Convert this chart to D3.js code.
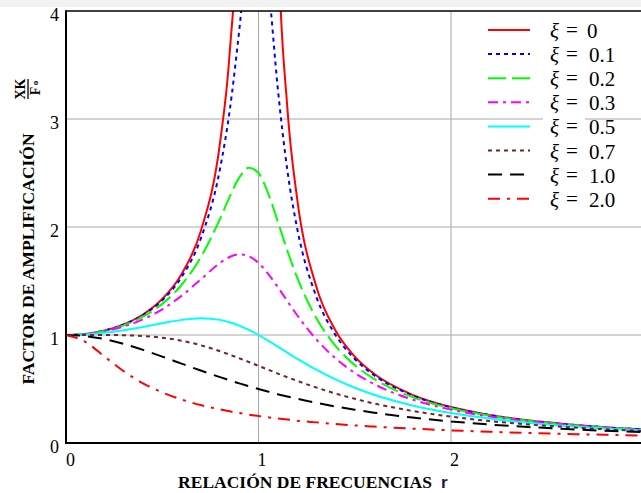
<!DOCTYPE html>
<html>
<head>
<meta charset="utf-8">
<script src="https://cdn.jsdelivr.net/npm/d3@7"></script>
<style>
  body { margin: 0; background: #fff; }
  text { font-family: "Liberation Serif", "Times New Roman", serif; }
</style>
</head>
<body>
<svg id="chart" width="641" height="493"></svg>
<script>
// frequency ratio r
var ratios = [0, 0.1, 0.2, 0.3, 0.4, 0.5, 0.6, 0.7, 0.8, 0.85, 0.9, 0.95, 1.0, 1.05, 1.1, 1.15, 1.2,
              1.3, 1.4, 1.5, 1.6, 1.8, 2.0, 2.2, 2.4, 2.6, 2.8, 3.0];

// amplification factor XK/Fo read for each damping ratio
var xi0  = [1, 1.010, 1.042, 1.099, 1.190, 1.333, 1.563, 1.961, 2.778, 3.604, 5.263, 10.26, null, 9.756, 4.762, 3.101, 2.273,
            1.449, 1.042, 0.800, 0.641, 0.446, 0.333, 0.260, 0.210, 0.174, 0.146, 0.125];
var xi01 = [1, 1.010, 1.041, 1.097, 1.185, 1.322, 1.536, 1.891, 2.538, 3.073, 3.821, 4.683, 5.0, 4.279, 3.288, 2.524, 1.995,
            1.356, 1.000, 0.778, 0.628, 0.441, 0.330, 0.259, 0.209, 0.173, 0.146, 0.125];
var xi02 = [1, 1.009, 1.038, 1.089, 1.169, 1.288, 1.463, 1.719, 2.076, 2.279, 2.457, 2.549, 2.5, 2.313, 2.051, 1.780, 1.536,
            1.157, 0.900, 0.721, 0.593, 0.425, 0.322, 0.254, 0.206, 0.171, 0.144, 0.124];
var xi03 = [1, 1.008, 1.034, 1.078, 1.145, 1.238, 1.362, 1.514, 1.667, 1.722, 1.747, 1.729, 1.667, 1.567, 1.444, 1.313, 1.185,
            0.960, 0.784, 0.649, 0.546, 0.402, 0.309, 0.246, 0.201, 0.168, 0.142, 0.122];
var xi05 = [1, 1.005, 1.020, 1.044, 1.075, 1.109, 1.140, 1.155, 1.140, 1.118, 1.087, 1.047, 1.000, 0.948, 0.893, 0.837, 0.782,
            0.679, 0.589, 0.512, 0.447, 0.348, 0.277, 0.226, 0.188, 0.158, 0.135, 0.117];
var xi07 = [1, 1.000, 1.000, 0.998, 0.991, 0.975, 0.947, 0.905, 0.850, 0.818, 0.785, 0.750, 0.714, 0.679, 0.643, 0.609, 0.576,
            0.514, 0.458, 0.409, 0.366, 0.297, 0.244, 0.203, 0.172, 0.147, 0.127, 0.111];
var xi10 = [1, 0.990, 0.962, 0.917, 0.862, 0.800, 0.735, 0.671, 0.610, 0.581, 0.552, 0.526, 0.500, 0.476, 0.452, 0.431, 0.410,
            0.372, 0.338, 0.308, 0.281, 0.236, 0.200, 0.171, 0.148, 0.129, 0.113, 0.100];
var xi20 = [1, 0.937, 0.800, 0.664, 0.553, 0.468, 0.403, 0.351, 0.311, 0.293, 0.277, 0.263, 0.250, 0.238, 0.227, 0.217, 0.207,
            0.191, 0.176, 0.163, 0.152, 0.133, 0.117, 0.104, 0.093, 0.084, 0.076, 0.069];

var seriesNames = ['0', '0.1', '0.2', '0.3', '0.5', '0.7', '1.0', '2.0'];
var seriesValues = [xi0, xi01, xi02, xi03, xi05, xi07, xi10, xi20];
var seriesColors = ['#ff0000', '#0000ff', '#00ff00', '#ff00ff', '#00ffff', '#742424', '#000000', '#ff0000'];
var seriesDash = [null, '4,4', '18,6', '10,5,3,5', null, '4,4', '14,8', '12,7,3,7'];

var xTicks = [0, 1, 2];
var yTicks = [0, 1, 2, 3, 4];

var svg = d3.select('#chart');
var plotLeft = 66, plotRight = 643.5, plotTop = 11, plotBottom = 443;

var x = d3.scaleLinear().domain([0, 3]).range([plotLeft, plotRight]);
var y = d3.scaleLinear().domain([0, 4]).range([plotBottom, plotTop]);

// faint band at the very top of the scan
svg.append('rect').attr('x', 0).attr('y', 0).attr('width', 641).attr('height', 7).attr('fill', '#f2f2f2');

svg.append('clipPath').attr('id', 'plot')
    .append('rect').attr('x', plotLeft).attr('y', plotTop)
    .attr('width', plotRight - plotLeft).attr('height', plotBottom - plotTop);

// grid lines
svg.append('g').selectAll('line')
    .data(yTicks.slice(1, 4))
    .enter().append('line')
    .attr('x1', plotLeft).attr('x2', 641)
    .attr('y1', function (d) { return y(d); }).attr('y2', function (d) { return y(d); })
    .attr('stroke', '#a8a8a8').attr('stroke-width', 1);

svg.append('g').selectAll('line')
    .data(xTicks.slice(1))
    .enter().append('line')
    .attr('x1', function (d) { return x(d); }).attr('x2', function (d) { return x(d); })
    .attr('y1', plotTop).attr('y2', plotBottom)
    .attr('stroke', '#a8a8a8').attr('stroke-width', 1);

// legend white box behind the xi column (hides the grid there)
svg.append('rect').attr('x', 543).attr('y', 18).attr('width', 42).attr('height', 196).attr('fill', '#fff');

// curves
var line = d3.line()
    .defined(function (d) { return d[1] != null; })
    .x(function (d) { return x(d[0]); })
    .y(function (d) { return y(d[1]); })
    .curve(d3.curveMonotoneX);

var curves = svg.append('g').attr('clip-path', 'url(#plot)');
seriesValues.forEach(function (vals, i) {
    var pts = ratios.map(function (r, j) { return [r, vals[j]]; });
    curves.append('path')
        .datum(pts)
        .attr('d', line)
        .attr('fill', 'none')
        .attr('stroke', seriesColors[i])
        .attr('stroke-width', 2)
        .attr('stroke-dasharray', seriesDash[i]);
});

// axes frame
svg.append('line').attr('x1', plotLeft).attr('x2', 641).attr('y1', plotTop).attr('y2', plotTop)
    .attr('stroke', '#000').attr('stroke-width', 1.5);
svg.append('line').attr('x1', plotLeft).attr('x2', plotLeft).attr('y1', plotTop - 0.75).attr('y2', plotBottom + 1)
    .attr('stroke', '#000').attr('stroke-width', 2);
svg.append('line').attr('x1', plotLeft - 1).attr('x2', 641).attr('y1', plotBottom).attr('y2', plotBottom)
    .attr('stroke', '#000').attr('stroke-width', 2);

var yAxis = svg.append('g')
    .attr('transform', 'translate(' + (plotLeft - 7) + ',0)')
    .call(d3.axisLeft(y).tickValues(yTicks).tickSize(0).tickPadding(0).tickFormat(d3.format('d')));
yAxis.select('.domain').remove();
yAxis.selectAll('text').attr('fill', '#000').attr('dy', '0.55em')
    .style('font-size', '18px').style('font-family', '"Liberation Serif", serif');

var xAxis = svg.append('g')
    .attr('transform', 'translate(0,' + plotBottom + ')')
    .call(d3.axisBottom(x).tickValues(xTicks).tickSize(0).tickPadding(10).tickFormat(d3.format('d')));
xAxis.select('.domain').remove();
xAxis.selectAll('text').attr('fill', '#000')
    .attr('dx', function (d) { return d === 0 ? 4 : 3; })
    .style('font-size', '18px').style('font-family', '"Liberation Serif", serif');

// axis titles
svg.append('text')
    .attr('x', 305).attr('y', 488)
    .attr('text-anchor', 'middle')
    .attr('font-size', 17.5).attr('font-weight', 'bold')
    .text('RELACIÓN DE FRECUENCIAS');
svg.append('text')
    .attr('x', 441).attr('y', 488)
    .style('font-family', '"Liberation Sans", Arial, sans-serif')
    .attr('font-size', 17).attr('font-weight', 'bold').attr('fill', '#1a1a40')
    .text('r');

svg.append('text')
    .attr('transform', 'translate(34,259) rotate(-90)')
    .attr('text-anchor', 'middle')
    .attr('font-size', 17.5).attr('font-weight', 'bold')
    .text('FACTOR DE AMPLIFICACIÓN');

var frac = svg.append('g').attr('transform', 'translate(28,89) rotate(-90)');
frac.append('text').attr('x', 0).attr('y', -3).attr('text-anchor', 'middle')
    .attr('font-size', 14).attr('font-weight', 'bold').text('XK');
frac.append('line').attr('x1', -10).attr('x2', 10).attr('y1', 0).attr('y2', 0)
    .attr('stroke', '#000').attr('stroke-width', 1.3);
frac.append('text').attr('x', -2).attr('y', 12).attr('text-anchor', 'middle')
    .attr('font-size', 14).attr('font-weight', 'bold').text('F');
frac.append('text').attr('x', 6).attr('y', 10).attr('text-anchor', 'middle')
    .attr('font-size', 9).attr('font-weight', 'bold').text('o');

// legend
var legend = svg.append('g');
seriesNames.forEach(function (name, i) {
    var ly = 30 + i * 24.1;
    legend.append('line')
        .attr('x1', 488).attr('x2', 530).attr('y1', ly).attr('y2', ly)
        .attr('stroke', seriesColors[i]).attr('stroke-width', 2)
        .attr('stroke-dasharray', seriesDash[i]);
    legend.append('text')
        .attr('x', 550).attr('y', ly + 8)
        .attr('font-size', 21).attr('font-style', 'italic')
        .text('ξ');
    legend.append('text')
        .attr('x', 566).attr('y', ly + 7)
        .attr('font-size', 21)
        .text('=');
    legend.append('text')
        .attr('x', i === 0 ? 587 : 589).attr('y', ly + 8)
        .attr('font-size', 21)
        .text(name);
});
</script>
</body>
</html>
